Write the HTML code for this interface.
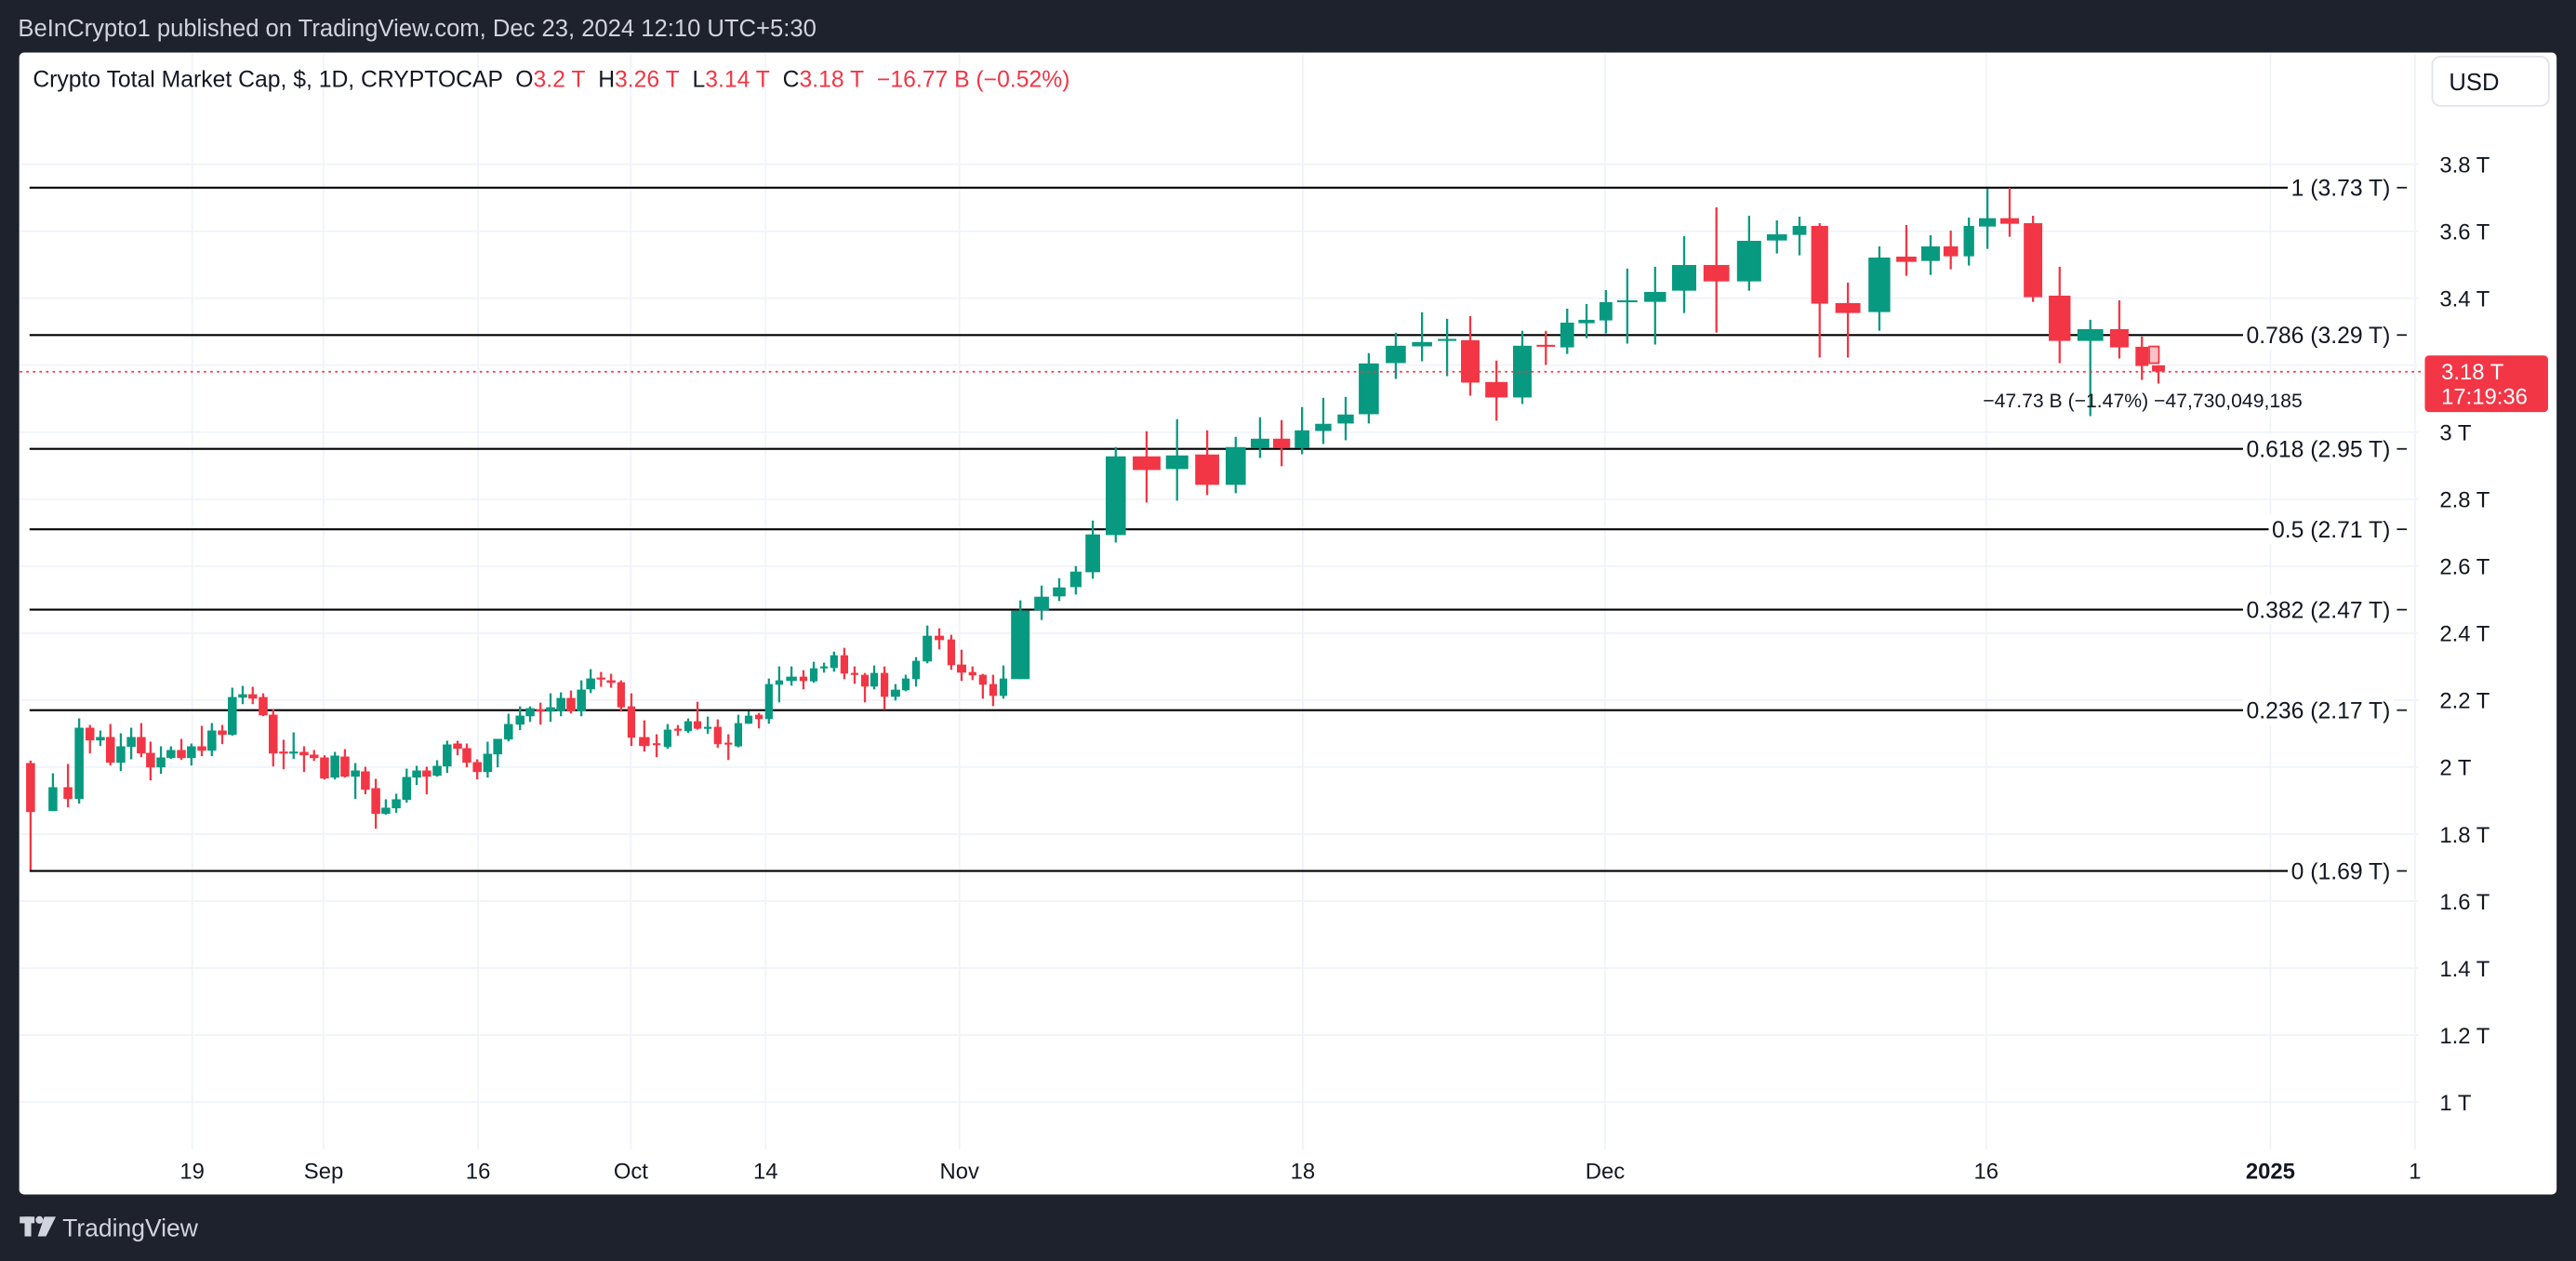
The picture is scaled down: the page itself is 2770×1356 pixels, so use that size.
<!DOCTYPE html>
<html><head><meta charset="utf-8"><style>
html,body{margin:0;padding:0;background:#1e222d;}
svg{display:block;font-family:"Liberation Sans",sans-serif;}
</style></head><body>
<svg id="s" width="2770" height="1356" viewBox="0 0 1568 768" preserveAspectRatio="none" xmlns="http://www.w3.org/2000/svg">
<rect x="0" y="0" width="1568" height="768" fill="#1e222d"/>
<text x="11" y="22" font-size="14.5" fill="#d1d4dc">BeInCrypto1 published on TradingView.com, Dec 23, 2024 12:10 UTC+5:30</text>
<rect x="11.7" y="32" width="1544.5" height="695.5" rx="3" fill="#ffffff"/>
<g id="grid"></g>
<g id="fib"></g>
<g id="candles"></g>
<g id="overlay"></g>
<text x="20" y="53" font-size="14" fill="#131722" xml:space="preserve">Crypto Total Market Cap, $, 1D, CRYPTOCAP  O<tspan fill="#f23645">3.2 T</tspan>  H<tspan fill="#f23645">3.26 T</tspan>  L<tspan fill="#f23645">3.14 T</tspan>  C<tspan fill="#f23645">3.18 T</tspan>  <tspan fill="#f23645">−16.77 B (−0.52%)</tspan></text>
<rect x="1480.5" y="34.5" width="71" height="30" rx="5" fill="#fff" stroke="#e0e3eb"/>
<text x="1506" y="55" font-size="14.5" fill="#131722" text-anchor="middle">USD</text>
<g fill="#d1d4dc">
<rect x="12" y="741" width="9" height="4"/><rect x="15" y="741" width="4" height="12"/>
<circle cx="24" cy="743" r="2.3"/><polygon points="27,741 34,741 28,753 23,753"/>
</g>
<text x="38" y="753" font-size="15" fill="#d1d4dc">TradingView</text>
</svg>
<script>
const NS="http://www.w3.org/2000/svg";
function el(p,t,a,txt){const e=document.createElementNS(NS,t);for(const k in a)e.setAttribute(k,a[k]);if(txt!==undefined)e.textContent=txt;document.getElementById(p).appendChild(e);return e;}
const yv=v=>100+(3.8-v)*204;
const ticks=[3.8,3.6,3.4,3.2,3.0,2.8,2.6,2.4,2.2,2.0,1.8,1.6,1.4,1.2,1.0];
ticks.forEach(v=>{el('grid','line',{x1:12,x2:1472,y1:yv(v),y2:yv(v),stroke:'#f0f3fa','stroke-width':1});});
const tx=[[117,'19'],[197,'Sep'],[291,'16'],[384,'Oct'],[466,'14'],[584,'Nov'],[793,'18'],[977,'Dec'],[1209,'16'],[1382,'2025'],[1470,'1']];
tx.forEach(([x,t])=>{el('grid','line',{x1:x,x2:x,y1:33,y2:700,stroke:'#f0f3fa','stroke-width':1});
 const e=el('grid','text',{x:x,y:718,'font-size':13.5,fill:'#131722','text-anchor':'middle'},t); if(t==='2025')e.setAttribute('font-weight','bold');});
ticks.forEach(v=>{if(v===3.2)return;const lab=(Math.round(v*10)/10)+' T';el('grid','text',{x:1485,y:yv(v)+5,'font-size':13.5,fill:'#131722'},lab);});
const fib=[['1 (3.73 T)',3.73],['0.786 (3.29 T)',3.29],['0.618 (2.95 T)',2.95],['0.5 (2.71 T)',2.71],['0.382 (2.47 T)',2.47],['0.236 (2.17 T)',2.17],['0 (1.69 T)',1.69]];
fib.forEach(([t,v])=>{const y=yv(v);el('fib','line',{x1:18,x2:1398,y1:y,y2:y,stroke:'#000','stroke-width':1.2});
 const tt=el('fib','text',{x:1455,y:y+5,'font-size':14,fill:'#131722','text-anchor':'end'},t);
 const w=tt.getComputedTextLength?tt.getComputedTextLength():t.length*8;
 const r=document.createElementNS(NS,'rect');r.setAttribute('x',1455-w-2);r.setAttribute('y',y-9);r.setAttribute('width',w+4);r.setAttribute('height',18);r.setAttribute('fill','#fff');
 tt.parentNode.insertBefore(r,tt);
 el('fib','line',{x1:1459,x2:1465,y1:y,y2:y,stroke:'#131722','stroke-width':1});});
const G='#089981',R='#f23645';
function draw(list,ox,oy,kx,ky,dh){list.forEach(c=>{const [zx,bt,bb,wt,wb,col,hw]=c;const x=ox+zx*kx;const h=(hw||dh)*kx;
 const fill=col==='g'?G:R;
 el('candles','line',{x1:x,x2:x,y1:oy+wt*ky,y2:oy+wb*ky,stroke:fill,'stroke-width':1.3});
 let y1=oy+bt*ky,y2=oy+bb*ky;if(y2-y1<1.2)y2=y1+1.2;
 if(col==='p'){el('candles','rect',{x:x-h,y:y1,width:2*h,height:y2-y1,fill:'#f9c1c6',stroke:R,'stroke-width':1});}
 else el('candles','rect',{x:x-h,y:y1,width:2*h,height:y2-y1,fill:fill});});}
const z1=[[31,423,581,415,768,'r'],[89,501,578,456,578,'g'],[128,501,539,426,566,'r'],[157,309,539,279,554,'g'],[185,309,350,300,392,'r'],[212,339,350,318,368,'g'],[238,339,422,297,431,'r'],[265,369,422,327,449,'g'],[292,339,371,309,411,'g'],[318,339,392,294,404,'r'],[342,390,437,354,479,'r'],[369,405,437,369,458,'g'],[395,381,407,369,410,'g'],[422,381,407,345,413,'r'],[448,369,407,360,431,'g'],[475,369,383,303,401,'r'],[501,318,383,294,401,'g'],[528,318,332,300,362,'r'],[554,210,332,180,335,'g'],[581,201,212,174,233,'g'],[607,201,215,177,233,'r'],[634,210,269,198,272,'r'],[660,267,392,250,434,'r'],[687,386,392,348,443,'r'],[713,386,392,324,410,'g'],[740,387,398,369,452,'r'],[766,396,407,381,416,'r'],[793,405,473,398,476,'r'],[820,399,470,387,476,'g'],[846,402,467,378,470,'r'],[873,447,467,423,539,'g'],[899,450,509,435,524,'r'],[926,504,587,474,635,'r'],[952,567,587,540,590,'g'],[979,540,569,522,584,'g'],[1006,468,542,441,551,'g'],[1032,447,470,432,494,'g'],[1058,447,467,435,524,'r'],[1085,432,464,414,467,'g'],[1111,363,434,351,455,'g'],[1138,360,377,351,398,'r'],[1162,375,422,360,437,'r'],[1189,420,452,411,476,'r'],[1216,393,452,354,470,'g'],[1242,345,395,345,437,'g'],[1270,297,347,264,353,'g'],[1300,270,299,240,317,'g'],[1326,246,272,240,290,'g'],[1353,249,257,228,299,'r'],[1379,243,257,198,290,'g'],[1406,213,255,195,272,'g'],[1432,213,255,189,263,'r'],[1459,186,255,156,272,'g'],[1483,150,185,120,197,'g'],[1510,147,152,129,177,'r'],[1536,156,164,135,180,'r']];
const z2=[[22,522,603,516,617,'r'],[53,600,701,558,728,'r'],[92,699,728,645,746,'r',16],[129,719,722,690,764,'r'],[162,675,731,657,737,'g'],[193,672,677,660,695,'r'],[224,648,680,639,686,'g'],[252,648,672,585,675,'r'],[283,666,669,633,689,'g'],[313,666,722,642,734,'r'],[345,717,720,690,773,'r'],[375,654,729,627,732,'g'],[406,630,656,615,656,'g'],[437,627,641,621,671,'r'],[467,528,641,510,656,'g'],[498,516,530,471,587,'g'],[535,504,518,471,533,'g',16],[571,504,518,483,545,'r'],[602,477,519,456,524,'g'],[633,471,476,459,491,'g'],[663,435,476,423,488,'g'],[694,435,494,411,512,'r'],[725,492,498,471,527,'r'],[756,498,536,492,587,'r'],[784,492,536,468,545,'g'],[815,492,569,471,611,'r'],[848,546,569,528,581,'g',14],[879,510,548,498,551,'g'],[910,453,512,441,536,'g'],[944,372,455,339,461,'g',14],[980,372,386,348,416,'r',14],[1016,384,467,369,482,'r'],[1047,465,491,417,518,'r',14],[1080,489,500,471,515,'r'],[1111,498,530,495,575,'r'],[1142,528,566,498,599,'r'],[1173,510,566,468,575,'g'],[1224,291,512,258,512,'g',28],[1288,246,290,210,321,'g',22],[1341,216,245,186,260,'g',19],[1391,165,215,147,239,'g',17],[1442,45,167,0,188,'g',22]];
const z3=[[289,483,737,453,761,'g',26],[369,483,527,402,632,'r',36],[448,480,524,363,626,'g',29],[526,477,575,399,608,'r',31],[600,453,575,420,602,'g',26],[663,426,456,357,488,'g',24],[719,426,456,366,515,'r',22],[772,399,456,324,476,'g',19],[827,378,401,294,443,'g',21],[885,348,377,291,431,'g',21],[945,183,347,150,377,'g',26],[1015,126,182,84,233,'g',26],[1083,114,128,18,176,'g',26],[1148,104,109,39,224,'g',24],[1208,108,245,30,287,'r',24],[1276,243,293,174,368,'r',29],[1343,126,293,78,314,'g',24],[1404,123,128,78,188,'r',24]];
const z4=[[12,471,551,426,572,'g',17],[60,462,473,411,521,'g',20],[108,405,464,366,506,'g',16],[161,399,404,297,539,'g',25],[230,372,404,291,542,'g',27],[302,285,368,192,440,'g',30],[382,285,338,99,503,'r',32],[463,207,338,126,368,'g',30],[532,186,206,141,248,'g',25],[588,159,188,129,254,'g',17],[638,159,410,150,584,'r',21],[708,408,440,342,584,'r',31],[786,261,437,225,497,'g',27],[853,258,275,156,320,'r',25],[913,225,272,189,317,'g',23],[963,225,257,174,299,'r',18],[1008,159,257,132,287,'g',13],[1054,134,161,39,233,'g',21],[1109,134,152,36,194,'r',23],[1167,150,389,126,404,'r',23],[1233,384,530,291,602,'r',27],[1309,492,530,462,773,'g',32],[1381,492,551,399,587,'r',23],[1437,549,611,516,656,'r',16],[1478,609,629,609,668,'r',16],[1467,548,602,548,602,'p',12]];
draw(z1,11.32,384.9,0.2348,0.1887,11.5);
draw(z2,373.6,317.0,0.2022,0.1887,11.5);
draw(z3,611.3,186.8,0.2348,0.1887,24);
draw(z4,951,107.6,0.2455,0.1887,20);
const py=226.4;
el('overlay','line',{x1:12,x2:1476,y1:py,y2:py,stroke:R,'stroke-width':1,'stroke-dasharray':'1.5 2.5'});
el('overlay','text',{x:1207,y:248,'font-size':12,fill:'#131722'},'−47.73 B (−1.47%) −47,730,049,185');
el('overlay','rect',{x:1476,y:216.5,width:75,height:34.5,rx:2.5,fill:R});
el('overlay','text',{x:1486,y:231,'font-size':13.5,fill:'#fff'},'3.18 T');
el('overlay','text',{x:1486,y:246,'font-size':13.5,fill:'#fff'},'17:19:36');
</script>
</body></html>
